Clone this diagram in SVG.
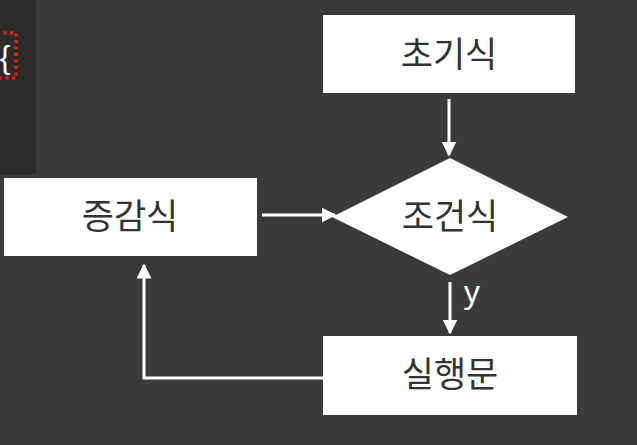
<svg xmlns="http://www.w3.org/2000/svg" width="637" height="445" viewBox="0 0 637 445">
<defs>
<style>
.box{fill:#ffffff}
.lbl{font-family:"Noto Sans CJK KR","Noto Sans",sans-serif;font-size:35px;fill:#333333;text-anchor:middle}
.edge{stroke:#ffffff;stroke-width:3;fill:none}
</style>
<marker id="ah" viewBox="0 0 10 10" refX="9" refY="5" markerWidth="5" markerHeight="5" orient="auto" markerUnits="strokeWidth">
<path d="M0,0 L10,5 L0,10 Z" fill="#ffffff"/>
</marker>
</defs>
<rect width="637" height="445" fill="#3a3a3a"/>
<rect x="0" y="0" width="36" height="175" fill="#2c2c2c"/>
<rect x="-3" y="33" width="19" height="45" fill="none" stroke="#e0201a" stroke-width="3.5" stroke-dasharray="3 3.5"/>
<text x="5" y="68" font-family="'Liberation Sans',sans-serif" font-size="32" fill="#ffffff" text-anchor="middle">{</text>
<g id="init">
<rect class="box" x="323" y="15" width="252" height="78"/>
<text class="lbl" x="449" y="67">초기식</text>
</g>
<g id="cond">
<polygon class="box" points="450,158 568,217 450,275 332,217"/>
<text class="lbl" x="450" y="229">조건식</text>
</g>
<g id="incr">
<rect class="box" x="4" y="178" width="253" height="78"/>
<text class="lbl" x="130" y="229">증감식</text>
</g>
<g id="body">
<rect class="box" x="323" y="336" width="254" height="79"/>
<text class="lbl" x="450" y="387">실행문</text>
</g>
<g id="edges">
<line class="edge" x1="449" y1="99" x2="449" y2="155" marker-end="url(#ah)"/>
<line class="edge" x1="262" y1="215" x2="335" y2="215" marker-end="url(#ah)"/>
<line class="edge" x1="450" y1="282" x2="450" y2="333" marker-end="url(#ah)"/>
<polyline class="edge" points="323,378 144,378 144,265" marker-end="url(#ah)"/>
<text x="472" y="303" font-family="'Noto Sans','Liberation Sans',sans-serif" font-size="31" fill="#ffffff" text-anchor="middle">y</text>
</g>
</svg>
